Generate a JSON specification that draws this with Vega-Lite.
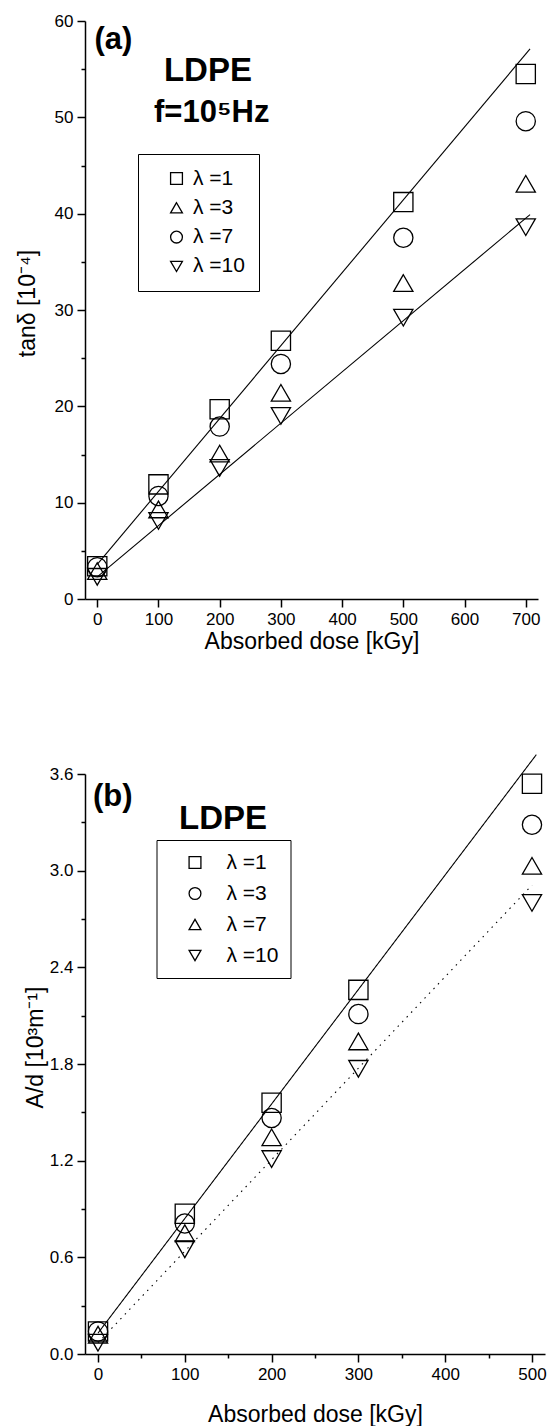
{
  "$schema": "https://vega.github.io/schema/vega-lite/v6.json",
  "background": "white",
  "padding": {"left": 16, "top": 12, "right": 0, "bottom": 0},
  "spacing": 175,
  "bounds": "flush",
  "resolve": {"scale": {"shape": "independent", "strokeDash": "independent"}, "legend": {"shape": "independent"}},
  "config": {
    "font": "Liberation Sans",
    "view": {"stroke": null},
    "axis": {
      "grid": false,
      "domainColor": "black",
      "domainWidth": 1.5,
      "tickColor": "black",
      "tickWidth": 1.5,
      "labelColor": "black",
      "labelFontSize": 17,
      "labelFont": "Liberation Sans",
      "titleFont": "Liberation Sans",
      "titleColor": "black",
      "titleFontSize": 23,
      "titleFontWeight": "normal",
      "labelFlush": false,
      "labelOverlap": false
    },
    "legend": {
      "orient": "none",
      "strokeColor": "black",
      "fillColor": "white",
      "labelFont": "Liberation Sans",
      "labelFontSize": 21,
      "labelColor": "black",
      "symbolStrokeColor": "black",
      "symbolFillColor": "transparent",
      "symbolStrokeWidth": 1.3,
      "symbolSize": 140,
      "title": null
    }
  },
  "vconcat": [
    {
      "width": 453,
      "height": 578,
      "layer": [
        {
          "data": {"values": [
            {"fit": "upper", "dose": 0, "val": 3.6},
            {"fit": "upper", "dose": 707, "val": 57.1},
            {"fit": "lower", "dose": 0, "val": 2.3},
            {"fit": "lower", "dose": 707, "val": 39.9}
          ]},
          "mark": {"type": "line", "color": "black", "strokeWidth": 1.1},
          "encoding": {
            "x": {"field": "dose", "type": "quantitative",
              "scale": {"domain": [-20, 720], "nice": false, "zero": false},
              "axis": {
                "title": "Absorbed dose [kGy]",
                "values": [0, 50, 100, 150, 200, 250, 300, 350, 400, 450, 500, 550, 600, 650, 700],
                "labelExpr": "datum.value % 100 === 0 ? datum.label : ''",
                "tickSize": {"condition": {"test": "datum.value % 100 === 0", "value": 8}, "value": 4},
                "labelPadding": 4,
                "titlePadding": 3
              }},
            "y": {"field": "val", "type": "quantitative",
              "scale": {"domain": [0, 60], "nice": false, "zero": false},
              "axis": {
                "title": "tanδ [10⁻⁴]",
                "values": [0, 5, 10, 15, 20, 25, 30, 35, 40, 45, 50, 55, 60],
                "labelExpr": "datum.value % 10 === 0 ? datum.label : ''",
                "tickSize": {"condition": {"test": "datum.value % 10 === 0", "value": 8}, "value": 4},
                "labelPadding": 4,
                "titleX": -58,
                "titleY": 282,
                "titleBaseline": "middle",
                "titleAngle": -90
              }},
            "detail": {"field": "fit"}
          }
        },
        {
          "data": {"values": [
            {"dose": 0, "val": 3.4, "series": "λ =1"},
            {"dose": 100, "val": 11.9, "series": "λ =1"},
            {"dose": 200, "val": 19.7, "series": "λ =1"},
            {"dose": 300, "val": 26.8, "series": "λ =1"},
            {"dose": 500, "val": 41.2, "series": "λ =1"},
            {"dose": 700, "val": 54.5, "series": "λ =1"},
            {"dose": 0, "val": 2.9, "series": "λ =3"},
            {"dose": 100, "val": 9.3, "series": "λ =3"},
            {"dose": 200, "val": 15.1, "series": "λ =3"},
            {"dose": 300, "val": 21.4, "series": "λ =3"},
            {"dose": 500, "val": 32.8, "series": "λ =3"},
            {"dose": 700, "val": 43.1, "series": "λ =3"},
            {"dose": 0, "val": 3.3, "series": "λ =7"},
            {"dose": 100, "val": 10.7, "series": "λ =7"},
            {"dose": 200, "val": 17.9, "series": "λ =7"},
            {"dose": 300, "val": 24.4, "series": "λ =7"},
            {"dose": 500, "val": 37.5, "series": "λ =7"},
            {"dose": 700, "val": 49.6, "series": "λ =7"},
            {"dose": 0, "val": 2.3, "series": "λ =10"},
            {"dose": 100, "val": 8.1, "series": "λ =10"},
            {"dose": 200, "val": 13.6, "series": "λ =10"},
            {"dose": 300, "val": 19.0, "series": "λ =10"},
            {"dose": 500, "val": 29.2, "series": "λ =10"},
            {"dose": 700, "val": 38.6, "series": "λ =10"}
          ]},
          "mark": {"type": "point", "filled": false, "stroke": "black", "strokeWidth": 1.3, "opacity": 1, "size": 370},
          "encoding": {
            "x": {"field": "dose", "type": "quantitative", "scale": {"domain": [-20, 720], "nice": false, "zero": false}},
            "y": {"field": "val", "type": "quantitative", "scale": {"domain": [0, 60], "nice": false, "zero": false}},
            "shape": {"field": "series", "type": "nominal",
              "scale": {"domain": ["λ =1", "λ =3", "λ =7", "λ =10"], "range": ["square", "triangle-up", "circle", "triangle-down"]},
              "legend": {"orient": "none", "legendX": 53, "legendY": 133, "padding": 14, "rowPadding": 7.3, "symbolOffset": 14, "labelOffset": 6, "labelFontSize": 21}}
          }
        },
        {
          "data": {"values": [{}]},
          "mark": {"type": "text", "text": "(a)", "fontSize": 31, "fontWeight": "bold", "align": "left", "baseline": "middle", "color": "black"},
          "encoding": {"x": {"datum": -4.4, "type": "quantitative"}, "y": {"datum": 58.0, "type": "quantitative"}}
        },
        {
          "data": {"values": [{}]},
          "mark": {"type": "text", "text": "LDPE", "fontSize": 33, "fontWeight": "bold", "align": "center", "baseline": "middle", "color": "black"},
          "encoding": {"x": {"datum": 180.8, "type": "quantitative"}, "y": {"datum": 54.76, "type": "quantitative"}}
        },
        {
          "data": {"values": [{}]},
          "mark": {"type": "text", "text": "f=10⁵Hz", "fontSize": 31, "fontWeight": "bold", "align": "center", "baseline": "middle", "color": "black"},
          "encoding": {"x": {"datum": 187, "type": "quantitative"}, "y": {"datum": 50.4, "type": "quantitative"}}
        }
      ]
    },
    {
      "width": 460,
      "height": 580,
      "layer": [
        {
          "data": {"values": [
            {"fit": "solid", "dose": 0, "val": 0.13},
            {"fit": "solid", "dose": 505, "val": 3.72},
            {"fit": "dotted", "dose": 0, "val": 0.07},
            {"fit": "dotted", "dose": 500, "val": 2.91}
          ]},
          "mark": {"type": "line", "color": "black", "strokeWidth": 1.1},
          "encoding": {
            "x": {"field": "dose", "type": "quantitative",
              "scale": {"domain": [-15, 515], "nice": false, "zero": false},
              "axis": {
                "title": "Absorbed dose [kGy]",
                "values": [0, 50, 100, 150, 200, 250, 300, 350, 400, 450, 500],
                "labelExpr": "datum.value % 100 === 0 ? datum.label : ''",
                "tickSize": {"condition": {"test": "datum.value % 100 === 0", "value": 8}, "value": 4},
                "labelPadding": 4,
                "titlePadding": 21
              }},
            "y": {"field": "val", "type": "quantitative",
              "scale": {"domain": [0, 3.6], "nice": false, "zero": false},
              "axis": {
                "title": "A/d [10³m⁻¹]",
                "values": [0, 0.3, 0.6, 0.9, 1.2, 1.5, 1.8, 2.1, 2.4, 2.7, 3.0, 3.3, 3.6],
                "labelExpr": "round(datum.value * 10) % 6 === 0 ? format(datum.value, '.1f') : ''",
                "tickSize": {"condition": {"test": "round(datum.value * 10) % 6 === 0", "value": 8}, "value": 4},
                "labelPadding": 4,
                "titleX": -49.5,
                "titleY": 273,
                "titleBaseline": "middle",
                "titleAngle": -90
              }},
            "detail": {"field": "fit"},
            "strokeDash": {"field": "fit", "type": "nominal",
              "scale": {"domain": ["solid", "dotted"], "range": [[1, 0], [1.5, 5]]},
              "legend": null}
          }
        },
        {
          "data": {"values": [
            {"dose": 0, "val": 0.14, "series": "λ =1"},
            {"dose": 100, "val": 0.87, "series": "λ =1"},
            {"dose": 200, "val": 1.56, "series": "λ =1"},
            {"dose": 300, "val": 2.26, "series": "λ =1"},
            {"dose": 500, "val": 3.54, "series": "λ =1"},
            {"dose": 0, "val": 0.14, "series": "λ =3"},
            {"dose": 100, "val": 0.81, "series": "λ =3"},
            {"dose": 200, "val": 1.465, "series": "λ =3"},
            {"dose": 300, "val": 2.11, "series": "λ =3"},
            {"dose": 500, "val": 3.285, "series": "λ =3"},
            {"dose": 0, "val": 0.12, "series": "λ =7"},
            {"dose": 100, "val": 0.75, "series": "λ =7"},
            {"dose": 200, "val": 1.345, "series": "λ =7"},
            {"dose": 300, "val": 1.94, "series": "λ =7"},
            {"dose": 500, "val": 3.03, "series": "λ =7"},
            {"dose": 0, "val": 0.07, "series": "λ =10"},
            {"dose": 100, "val": 0.65, "series": "λ =10"},
            {"dose": 200, "val": 1.21, "series": "λ =10"},
            {"dose": 300, "val": 1.77, "series": "λ =10"},
            {"dose": 500, "val": 2.80, "series": "λ =10"}
          ]},
          "mark": {"type": "point", "filled": false, "stroke": "black", "strokeWidth": 1.3, "opacity": 1, "size": 370},
          "encoding": {
            "x": {"field": "dose", "type": "quantitative", "scale": {"domain": [-15, 515], "nice": false, "zero": false}},
            "y": {"field": "val", "type": "quantitative", "scale": {"domain": [0, 3.6], "nice": false, "zero": false}},
            "shape": {"field": "series", "type": "nominal",
              "scale": {"domain": ["λ =1", "λ =3", "λ =7", "λ =10"], "range": ["square", "circle", "triangle-up", "triangle-down"]},
              "legend": {"orient": "none", "legendX": 71.5, "legendY": 66, "padding": 12, "rowPadding": 9, "symbolOffset": 16, "labelOffset": 21, "labelFontSize": 21}}
          }
        },
        {
          "data": {"values": [{}]},
          "mark": {"type": "text", "text": "(b)", "fontSize": 31, "fontWeight": "bold", "align": "left", "baseline": "middle", "color": "black"},
          "encoding": {"x": {"datum": -5.8, "type": "quantitative"}, "y": {"datum": 3.46, "type": "quantitative"}}
        },
        {
          "data": {"values": [{}]},
          "mark": {"type": "text", "text": "LDPE", "fontSize": 33, "fontWeight": "bold", "align": "center", "baseline": "middle", "color": "black"},
          "encoding": {"x": {"datum": 144, "type": "quantitative"}, "y": {"datum": 3.32, "type": "quantitative"}}
        }
      ]
    }
  ]
}
